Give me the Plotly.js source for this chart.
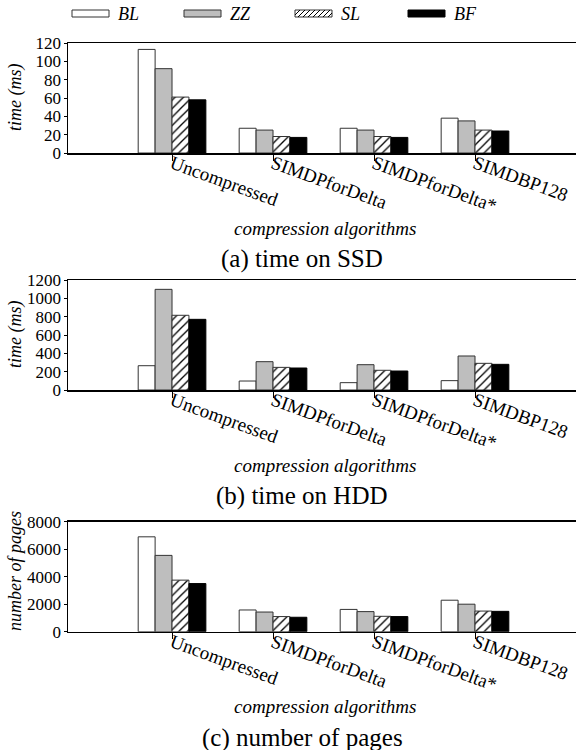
<!DOCTYPE html>
<html><head><meta charset="utf-8">
<script src="https://cdn.plot.ly/plotly-3.0.1.min.js"></script>
<style>html,body{margin:0;padding:0;background:#fff;}#chart{width:576px;height:750px;}</style>
</head><body><div id="chart"></div>
<script>
// ---- data ----
const categories = ['Uncompressed', 'SIMDPforDelta', 'SIMDPforDelta*', 'SIMDBP128'];
const seriesNames = ['BL', 'ZZ', 'SL', 'BF'];

const ssdBL = [113, 27, 27, 38];
const ssdZZ = [92, 25, 25, 35];
const ssdSL = [61, 18, 18, 25];
const ssdBF = [58, 17, 17, 24];

const hddBL = [265, 98, 80, 102];
const hddZZ = [1098, 309, 276, 371];
const hddSL = [815, 247, 215, 291];
const hddBF = [771, 240, 207, 280];

const pagesBL = [6900, 1580, 1620, 2290];
const pagesZZ = [5550, 1430, 1460, 2000];
const pagesSL = [3750, 1100, 1120, 1500];
const pagesBF = [3500, 1050, 1100, 1480];

const yTitles = ['time (ms)', 'time (ms)', 'number of pages'];
const xTitle = 'compression algorithms';
const subTitles = ['(a) time on SSD', '(b) time on HDD', '(c) number of pages'];
const yRanges = [[0, 120], [0, 1200], [0, 8000]];
const yDticks = [20, 200, 2000];

// ---- styles ----
const W = 576, H = 750;
const FONT = '"Liberation Serif", "Times New Roman", Times, serif';
const px = x => x / W;
const py = y => 1 - y / H;
const outline = '#333';
const styles = {
  BL: {color: '#ffffff', line: {color: outline, width: 1}},
  ZZ: {color: '#bebebe', line: {color: outline, width: 1}},
  SL: {color: '#ffffff', line: {color: outline, width: 1},
       pattern: {shape: '/', fgcolor: '#000', bgcolor: '#fff', size: 6, solidity: 0.22, fillmode: 'replace'}},
  BF: {color: '#000000', line: {color: '#000', width: 1}}
};

const panels = [
  [ssdBL, ssdZZ, ssdSL, ssdBF],
  [hddBL, hddZZ, hddSL, hddBF],
  [pagesBL, pagesZZ, pagesSL, pagesBF]
];
// pixel geometry of plot areas (top, bottom)
const plotTB = [[43, 153], [280, 390], [521.7, 631.7]];
const plotL = 68;

const traces = [];
panels.forEach((ser, p) => {
  const sfx = p === 0 ? '' : String(p + 1);
  ser.forEach((vals, i) => {
    traces.push({
      type: 'bar', x: categories, y: vals, name: seriesNames[i],
      xaxis: 'x' + sfx, yaxis: 'y' + sfx,
      marker: styles[seriesNames[i]], showlegend: false, hoverinfo: 'skip'
    });
  });
});

const layout = {
  width: W, height: H,
  margin: {l: 0, r: 0, t: 0, b: 0},
  paper_bgcolor: '#fff', plot_bgcolor: '#fff',
  barmode: 'group', bargap: 0.33, bargroupgap: 0,
  font: {family: FONT, color: '#000', size: 18},
  showlegend: false,
  annotations: [], shapes: []
};

plotTB.forEach((tb, p) => {
  const sfx = p === 0 ? '' : String(p + 1);
  layout['xaxis' + sfx] = {
    domain: [px(plotL), 1], anchor: 'y' + sfx,
    type: 'category', range: [-1.03, 4],
    showline: true, linecolor: '#000', linewidth: 1.5, mirror: true,
    ticks: 'outside', ticklen: 6, tickcolor: '#000', tickwidth: 1,
    tickangle: 20, ticklabelstandoff: -15,
    tickfont: {family: FONT, size: 19, color: '#000'},
    showgrid: false, zeroline: false, fixedrange: true
  };
  layout['yaxis' + sfx] = {
    domain: [py(tb[1]), py(tb[0])], anchor: 'x' + sfx,
    range: yRanges[p], dtick: yDticks[p], tick0: 0,
    showline: true, linecolor: '#000', linewidth: 1.5,
    ticks: 'outside', ticklen: 3, tickcolor: '#000', ticklabelstandoff: -1,
    tickfont: {family: FONT, size: 17, color: '#000'},
    showgrid: false, zeroline: false, fixedrange: true
  };
  const mid = (tb[0] + tb[1]) / 2;
  layout.annotations.push({
    xref: 'paper', yref: 'paper', x: px(15), y: py(p === 2 ? 571 : mid),
    text: '<i>' + yTitles[p] + '</i>', textangle: -90, showarrow: false,
    xanchor: 'center', yanchor: 'middle', font: {family: FONT, size: 18}
  });
  layout.annotations.push({
    xref: 'paper', yref: 'paper', x: px(325), y: py(tb[1] + 75),
    text: '<i>' + xTitle + '</i>', showarrow: false,
    xanchor: 'center', yanchor: 'middle', font: {family: FONT, size: 19}
  });
  layout.annotations.push({
    xref: 'paper', yref: 'paper', x: px(302), y: py(tb[1] + 106),
    text: subTitles[p], showarrow: false,
    xanchor: 'center', yanchor: 'middle', font: {family: FONT, size: 25}
  });
});

// ---- legend (manual swatches) ----
const legX = [72, 184, 295, 408];
const swW = 37, swT = 10, swB = 17;
seriesNames.forEach((n, i) => {
  const st = styles[n];
  const x0 = legX[i], x1 = legX[i] + swW;
  layout.shapes.push({
    type: 'rect', xref: 'paper', yref: 'paper',
    x0: px(x0), x1: px(x1), y0: py(swB), y1: py(swT),
    fillcolor: st.color, line: {color: n === 'BF' ? '#000' : outline, width: 1}
  });
  if (st.pattern) {
    const h = swB - swT;
    let d = '';
    for (let k = x0 - h; k < x1; k += 5) {
      let ax = k, ay = swB, bx = k + h, by = swT;
      if (ax < x0) { ay = swB - (x0 - ax); ax = x0; }
      if (bx > x1) { by = swT + (bx - x1); bx = x1; }
      if (bx <= ax) continue;
      d += 'M' + px(ax) + ',' + py(ay) + 'L' + px(bx) + ',' + py(by);
    }
    layout.shapes.push({type: 'path', xref: 'paper', yref: 'paper', path: d,
      line: {color: '#000', width: 1}});
  }
  layout.annotations.push({
    xref: 'paper', yref: 'paper', x: px(x1 + 7), y: py((swT + swB) / 2),
    text: '<i>' + n + '</i>', showarrow: false, xanchor: 'left', yanchor: 'middle',
    font: {family: FONT, size: 18}
  });
});

Plotly.newPlot('chart', traces, layout, {displayModeBar: false, staticPlot: true});
</script>
</body></html>
